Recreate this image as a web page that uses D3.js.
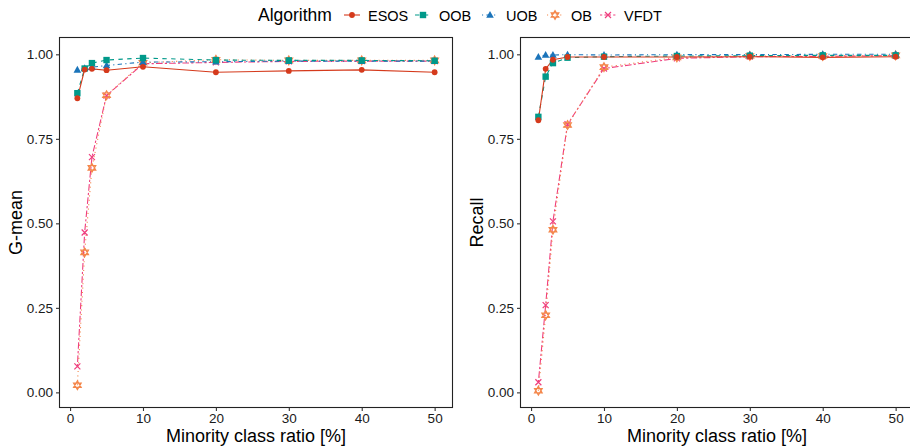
<!DOCTYPE html>
<html><head><meta charset="utf-8">
<script src="https://cdn.jsdelivr.net/npm/d3@7"></script>
<style>
body{margin:0;background:#fff;}
svg{display:block;font-family:"Liberation Sans",Arial,sans-serif;}
</style></head>
<body><svg id="c" width="910" height="448"></svg>
<script>
const ratios = [1, 2, 3, 5, 10, 20, 30, 40, 50];
const algorithms = ["ESOS", "OOB", "UOB", "OB", "VFDT"];
const colors = ["#D53A1C", "#00998A", "#1B74BA", "#F4874B", "#EF3E7E"];
const dashes = ["", "4.4,4.4", "1.1,3.3,4.4,3.3", "1.1,3.3", "2.2,2.2,6.6,2.2"];

const gmeanESOS = [0.870, 0.955, 0.957, 0.953, 0.963, 0.947, 0.951, 0.954, 0.947];
const gmeanOOB  = [0.885, 0.958, 0.974, 0.983, 0.989, 0.983, 0.982, 0.982, 0.981];
const gmeanUOB  = [0.954, 0.959, 0.962, 0.967, 0.977, 0.978, 0.980, 0.980, 0.980];
const gmeanOB   = [0.021, 0.414, 0.664, 0.879, 0.975, 0.984, 0.982, 0.982, 0.982];
const gmeanVFDT = [0.077, 0.473, 0.696, 0.878, 0.972, 0.976, 0.979, 0.980, 0.980];

const recallESOS = [0.805, 0.957, 0.984, 0.992, 0.992, 0.992, 0.993, 0.991, 0.993];
const recallOOB  = [0.815, 0.934, 0.974, 0.990, 0.993, 0.995, 0.996, 0.997, 0.997];
const recallUOB  = [0.992, 0.998, 0.998, 0.999, 0.998, 0.999, 0.999, 1.000, 1.000];
const recallOB   = [0.005, 0.228, 0.481, 0.791, 0.962, 0.991, 0.995, 0.995, 0.997];
const recallVFDT = [0.030, 0.258, 0.506, 0.793, 0.958, 0.988, 0.993, 0.994, 0.996];

const xTicks = [0, 10, 20, 30, 40, 50];
const yTicks = [0, 0.25, 0.5, 0.75, 1];

const panels = [
  {title: "G-mean", series: [gmeanESOS, gmeanOOB, gmeanUOB, gmeanOB, gmeanVFDT], x0: 59.5, x1: 452.5},
  {title: "Recall", series: [recallESOS, recallOOB, recallUOB, recallOB, recallVFDT], x0: 520.5, x1: 913.5}
];
const yTop = 37.5, yBottom = 407.5;
const svg = d3.select("#c");

function expand(ext) { const d = (ext[1] - ext[0]) * 0.05; return [ext[0] - d, ext[1] + d]; }
const allValues = panels.flatMap(p => p.series.flat());
const yDomain = expand(d3.extent(allValues));

function drawShape(g, k, cx, cy, col) {
  if (k === 0) {
    g.append("circle").attr("cx", cx).attr("cy", cy).attr("r", 2.9).attr("fill", col);
  } else if (k === 1) {
    g.append("rect").attr("x", cx - 3.2).attr("y", cy - 3.2).attr("width", 6.4).attr("height", 6.4).attr("fill", col);
  } else if (k === 2) {
    const s = 4;
    g.append("path").attr("d", `M${cx},${cy - s}L${cx + s * 0.95},${cy + s * 0.7}L${cx - s * 0.95},${cy + s * 0.7}Z`).attr("fill", col);
  } else if (k === 3) {
    const s = 4.4;
    g.append("path").attr("d", `M${cx},${cy - s}L${cx + s * 0.87},${cy + s * 0.5}L${cx - s * 0.87},${cy + s * 0.5}Z M${cx},${cy + s}L${cx + s * 0.87},${cy - s * 0.5}L${cx - s * 0.87},${cy - s * 0.5}Z`)
      .attr("fill", "none").attr("stroke", col).attr("stroke-width", 1.2);
  } else {
    const s = 3;
    g.append("path").attr("d", `M${cx - s},${cy - s}L${cx + s},${cy + s}M${cx - s},${cy + s}L${cx + s},${cy - s}`)
      .attr("stroke", col).attr("stroke-width", 1.2).attr("fill", "none");
  }
}

panels.forEach(p => {
  const x = d3.scaleLinear().domain(expand(d3.extent(ratios))).range([p.x0, p.x1]);
  const y = d3.scaleLinear().domain(yDomain).range([yBottom, yTop]);
  const g = svg.append("g");
  const order = [4, 3, 2, 1, 0];
  order.forEach(k => {
    const line = d3.line().x((d, i) => x(ratios[i])).y(d => y(d));
    g.append("path").datum(p.series[k]).attr("d", line).attr("fill", "none")
      .attr("stroke", colors[k]).attr("stroke-width", 1.1).attr("stroke-dasharray", dashes[k] || null);
  });
  order.forEach(k => {
    p.series[k].forEach((v, i) => drawShape(g, k, x(ratios[i]), y(v), colors[k]));
  });
  g.append("rect").attr("x", p.x0).attr("y", yTop).attr("width", p.x1 - p.x0).attr("height", yBottom - yTop)
    .attr("fill", "none").attr("stroke", "#222").attr("stroke-width", 1.1);
  const xa = g.append("g").attr("transform", `translate(0,${yBottom})`)
    .call(d3.axisBottom(x).tickValues(xTicks).tickSize(3.5).tickPadding(2.5).tickFormat(d3.format("d")));
  const ya = g.append("g").attr("transform", `translate(${p.x0},0)`)
    .call(d3.axisLeft(y).tickValues(yTicks).tickSize(3.5).tickPadding(3).tickFormat(d3.format(".2f")));
  [xa, ya].forEach(a => {
    a.select(".domain").remove();
    a.selectAll("line").attr("stroke", "#333").attr("stroke-width", 1.1);
    a.selectAll("text").attr("fill", "#1a1a1a").style("font-size", "13.5px").attr("font-family", null);
  });
  g.append("text").attr("x", x(25.5)).attr("y", 442)
    .attr("text-anchor", "middle").style("font-size", "18px").attr("fill", "#000")
    .text("Minority class ratio [%]");
  g.append("text").attr("transform", `translate(${p.x0 - 38},${(yTop + yBottom) / 2}) rotate(-90)`)
    .attr("text-anchor", "middle").style("font-size", "18px").attr("fill", "#000").text(p.title);
});

const lg = svg.append("g");
lg.append("text").attr("x", 258).attr("y", 21).style("font-size", "17.5px").attr("fill", "#000").text("Algorithm");
const keyX = [352, 423, 490, 555, 608];
algorithms.forEach((a, k) => {
  lg.append("line").attr("x1", keyX[k] - 8).attr("x2", keyX[k] + 8).attr("y1", 15).attr("y2", 15)
    .attr("stroke", colors[k]).attr("stroke-width", 1.1).attr("stroke-dasharray", dashes[k] || null);
  drawShape(lg, k, keyX[k], 15, colors[k]);
  lg.append("text").attr("x", keyX[k] + 16).attr("y", 20.5).style("font-size", "14.5px").attr("fill", "#000").text(a);
});
</script></body></html>
